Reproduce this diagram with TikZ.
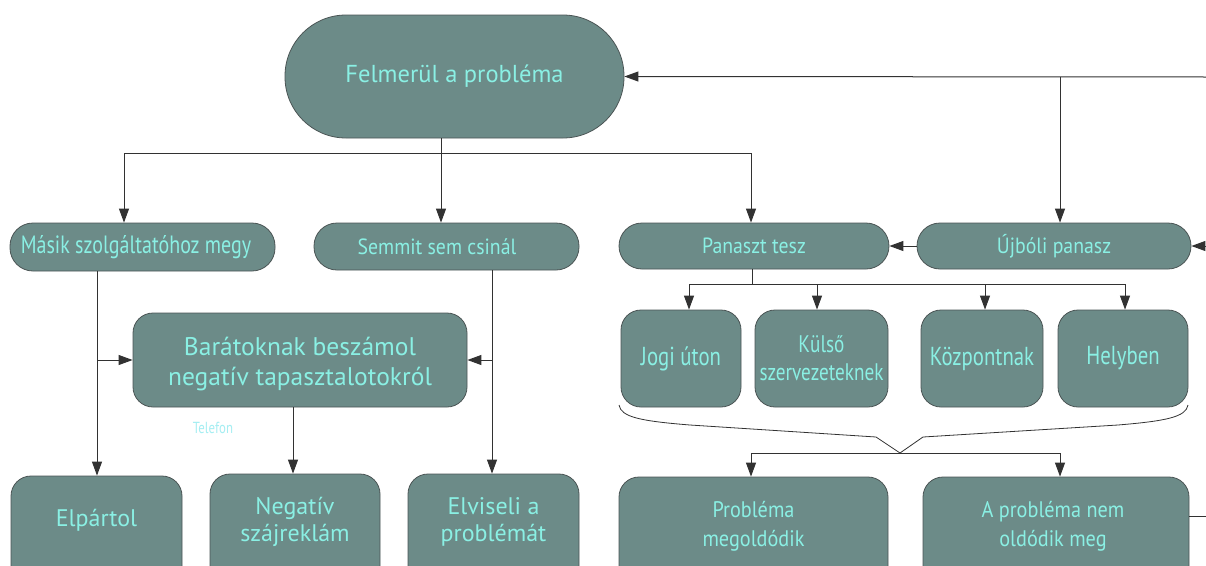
\documentclass[tikz,border=0pt]{standalone}
\usepackage{fontspec}
\setmainfont{PT Sans}[FakeStretch=0.9]
\newfontfamily\widefont{PT Sans}
\newfontfamily\condfont{PT Sans}[FakeStretch=0.8]
\usetikzlibrary{arrows.meta}
\definecolor{boxfill}{RGB}{108,139,136}
\definecolor{boxtext}{RGB}{138,240,228}
\definecolor{boxline}{RGB}{75,85,85}
\definecolor{linec}{RGB}{50,50,50}
\definecolor{telc}{RGB}{165,238,242}
\begin{document}
\begin{tikzpicture}[x=1pt,y=-1pt,
  box/.style={draw=boxline, fill=boxfill, text=boxtext, line width=0.8pt, align=center, inner sep=0pt},
  pill/.style={box, rounded corners=23pt},
  rbox/.style={box, rounded corners=20pt},
  txt/.style={text=boxtext, align=center, inner sep=0pt},
  fmed/.style={font=\fontsize{22}{28}\selectfont},
  fout/.style={font=\fontsize{22.5}{29}\selectfont},
  fcond/.style={font=\condfont\fontsize{26}{30}\selectfont},
  fwide/.style={font=\widefont\fontsize{24}{27}\selectfont},
  ln/.style={draw=linec, line width=1pt},
  arr/.style={draw=linec, line width=1pt, -{Triangle[length=14pt,width=10pt]}}]
\useasboundingbox (0,0) rectangle (1206,565);
\clip (0,0) rectangle (1206,565);
\fill[white] (0,0) rectangle (1206,565);

% top node
\node[box, rounded corners=61pt, minimum width=339pt, minimum height=123pt, font=\widefont\fontsize{24.5}{30}\selectfont] (top) at (454.5,76.5) {Felmerül a probléma};

% second row
\node[pill, font=\condfont\fontsize{25}{28}\selectfont, minimum width=265pt, minimum height=48pt] (mas) at (142.5,247) {Másik szolgáltatóhoz megy\kern13pt};
\node[pill, fmed, minimum width=265pt, minimum height=47pt] (sem) at (446.5,246.5) {Semmit sem csinál\kern19pt};
\node[pill, fmed, minimum width=270pt, minimum height=46pt] (pan) at (754,246) {Panaszt tesz};
\node[pill, fmed, minimum width=274pt, minimum height=46pt] (ujb) at (1054,246) {Újbóli panasz};

% Baratoknak
\node[rbox, minimum width=334pt, minimum height=94pt] (bar) at (300,360) {};
\node[txt, font=\widefont\fontsize{25.5}{30}\selectfont] (barT) at (300,364) {Barátoknak beszámol\\negatív tapasztalotokról};
\node[text=telc, inner sep=0pt, font=\condfont\fontsize{16}{18}\selectfont] (tel) at (213,428) {Telefon};

% bottom left boxes (extend below the frame)
\node[rbox, minimum width=171pt, minimum height=114pt] (elp) at (96.5,533) {};
\node[rbox, minimum width=170pt, minimum height=116pt] (neg) at (295,532) {};
\node[rbox, minimum width=171pt, minimum height=116pt] (elv) at (493.5,532) {};
\node[txt, fwide] (elpT) at (96.5,520) {Elpártol};
\node[txt, fwide] (negT) at (295,522) {Negatív\\szájreklám};
\node[txt, fwide] (elvT) at (493.5,522) {Elviseli a\\problémát};

% four complaint channels
\node[rbox, fcond, minimum width=120pt, minimum height=97pt] (jog) at (681,358.5) {Jogi úton};
\node[rbox, font=\condfont\fontsize{24}{28}\selectfont, minimum width=133pt, minimum height=97pt] (kul) at (821.5,358.5) {Külső\\szervezeteknek};
\node[rbox, fcond, minimum width=122pt, minimum height=97pt] (koz) at (982,358.5) {Központnak};
\node[rbox, fcond, minimum width=130pt, minimum height=97pt] (hel) at (1123,358.5) {Helyben};

% outcome boxes
\node[rbox, minimum width=269pt, minimum height=113pt] (prob) at (753.5,533.5) {};
\node[rbox, minimum width=266pt, minimum height=113pt] (anem) at (1056,533.5) {};
\node[txt, fout] (probT) at (753.5,526) {Probléma\\megoldódik};
\node[txt, fout] (anemT) at (1053,526) {A probléma nem\\oldódik meg};

% connectors from top
\coordinate (tj) at (441,153);
\coordinate (tL) at (124,153);
\coordinate (tR) at (751,153);
\draw[ln] (top.south -| tj) -- (tj);
\draw[ln] (tL) -- (tR);
\draw[arr] (tL) -- (tL |- mas.north);
\draw[arr] (tj) -- (tj |- sem.north);
\draw[arr] (tR) -- (tR |- pan.north);

% feedback loop on the right
\coordinate (rin) at (1206,77);
\coordinate (rj) at (1060,77);
\coordinate (rin2) at (1206,246);
\coordinate (rout) at (1206,516);
\draw[arr] (rin) -- (top.east);
\draw[arr] (rj) -- (rj |- ujb.north);
\draw[arr] (rin2) -- (ujb.east);
\draw[arr] (ujb.west) -- (pan.east);
\draw[ln] (rout -| anem.east) -- (rout);

% left branches
\coordinate (mj) at (97,360);
\coordinate (sj) at (492,360);
\coordinate (bj) at (293,360);
\draw[arr] (mas.south -| mj) -- (mj |- elp.north);
\draw[arr] (mj) -- (bar.west |- mj);
\draw[arr] (sem.south -| sj) -- (sj |- elv.north);
\draw[arr] (sj) -- (bar.east |- sj);
\draw[arr] (bar.south -| bj) -- (bj |- neg.north);

% complaint bus
\coordinate (pj) at (752,284);
\coordinate (b1) at (689,284);
\coordinate (b2) at (817,284);
\coordinate (b3) at (985,284);
\coordinate (b4) at (1125,284);
\draw[ln] (pan.south -| pj) -- (pj);
\draw[ln] (b1) -- (b4);
\draw[arr] (b1) -- (b1 |- jog.north);
\draw[arr] (b2) -- (b2 |- kul.north);
\draw[arr] (b3) -- (b3 |- koz.north);
\draw[arr] (b4) -- (b4 |- hel.north);

% brace and outcome bus
\coordinate (brv) at (900,453);
\coordinate (c1) at (751,453);
\coordinate (c2) at (1060,453);
\draw[ln, line width=0.8pt] (619,405) .. controls (621,417) and (640,421) .. (690,425) -- (876,437) -- (brv) -- (923,437) -- (1118,425) .. controls (1166,421) and (1186,417) .. (1188,405);
\draw[ln] (c1) -- (c2);
\draw[arr] (c1) -- (c1 |- prob.north);
\draw[arr] (c2) -- (c2 |- anem.north);
\end{tikzpicture}
\end{document}
